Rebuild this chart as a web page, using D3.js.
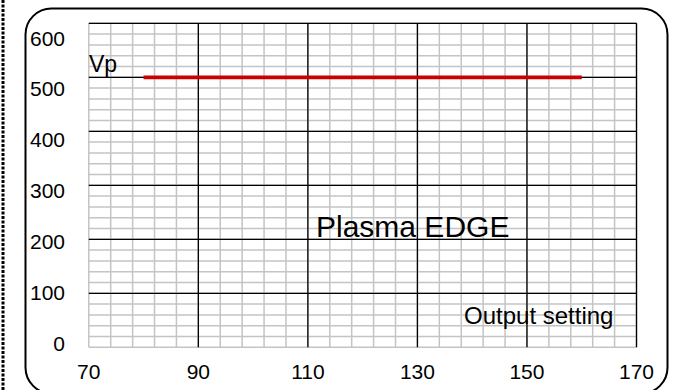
<!DOCTYPE html>
<html><head><meta charset="utf-8">
<script src="https://cdn.jsdelivr.net/npm/d3@7"></script>
<style>html,body{margin:0;padding:0;background:#fff;}svg{display:block;font-family:"Liberation Sans",Arial,sans-serif;}</style>
</head><body>
<script>
const xTicks = [70, 90, 110, 130, 150, 170];
const yTicks = [0, 100, 200, 300, 400, 500, 600];
const seriesX = [80, 160];
const seriesVp = [500, 500];
const seriesName = "Vp";
const annotation = "Plasma EDGE";
const xTitle = "Output setting";

const W = 675, H = 390;
const svg = d3.select("body").append("svg").attr("width", W).attr("height", H);

const x = d3.scaleLinear().domain([70, 170]).range([88.8, 636.5]);
const y = d3.scaleLinear().domain([0, 600]).range([347.3, 23.3]);
const yLab = d3.scaleLinear().domain([0, 600]).range([343, 38]);

// left dashed page edge
svg.append("line").attr("x1", 3).attr("x2", 3).attr("y1", 0).attr("y2", H)
  .attr("stroke", "#000").attr("stroke-width", 3).attr("stroke-dasharray", "3 1.5");

// rounded frame
svg.append("rect").attr("x", 25.5).attr("y", 8.5).attr("width", 642).attr("height", 385)
  .attr("rx", 26).attr("ry", 26).attr("fill", "none").attr("stroke", "#000").attr("stroke-width", 2);

const g = svg.append("g");
// minor grid
const xMinor = d3.range(70, 170.001, 4);
const yMinor = d3.range(0, 600.001, 20);
g.selectAll(".vx").data(xMinor).join("line")
  .attr("x1", d => x(d)).attr("x2", d => x(d)).attr("y1", y(0)).attr("y2", y(600))
  .attr("stroke", "#c4c4c4").attr("stroke-width", 1.5);
g.selectAll(".hy").data(yMinor).join("line")
  .attr("x1", x(70)).attr("x2", x(170)).attr("y1", d => y(d)).attr("y2", d => y(d))
  .attr("stroke", "#c4c4c4").attr("stroke-width", 1.5);
// major grid
g.selectAll(".mx").data(xTicks.filter(d => d !== 70)).join("line")
  .attr("x1", d => x(d)).attr("x2", d => x(d)).attr("y1", y(0)).attr("y2", y(600))
  .attr("stroke", "#000").attr("stroke-width", 1.3);
g.selectAll(".my").data(yTicks.filter(d => d !== 0)).join("line")
  .attr("x1", x(70)).attr("x2", x(170)).attr("y1", d => y(d)).attr("y2", d => y(d))
  .attr("stroke", "#000").attr("stroke-width", 1.3);

// series
const line = d3.line().x((d, i) => x(seriesX[i])).y(d => y(d));
svg.append("path").datum(seriesVp).attr("d", line)
  .attr("fill", "none").attr("stroke", "#cc0000").attr("stroke-width", 3.7);

// tick labels
svg.selectAll(".xl").data(xTicks).join("text")
  .attr("x", d => x(d)).attr("y", 378.5).attr("text-anchor", "middle")
  .attr("font-size", 21).text(d => d);
svg.selectAll(".yl").data(yTicks).join("text")
  .attr("x", 65).attr("y", d => yLab(d) + 7.5).attr("text-anchor", "end")
  .attr("font-size", 21).text(d => d);

// texts
svg.append("text").attr("x", 89).attr("y", 72).attr("font-size", 23).text(seriesName);
svg.append("text").attr("x", 316).attr("y", 237).attr("font-size", 30).text(annotation);
svg.append("text").attr("x", 464).attr("y", 324).attr("font-size", 24).text(xTitle);
</script>
</body></html>
